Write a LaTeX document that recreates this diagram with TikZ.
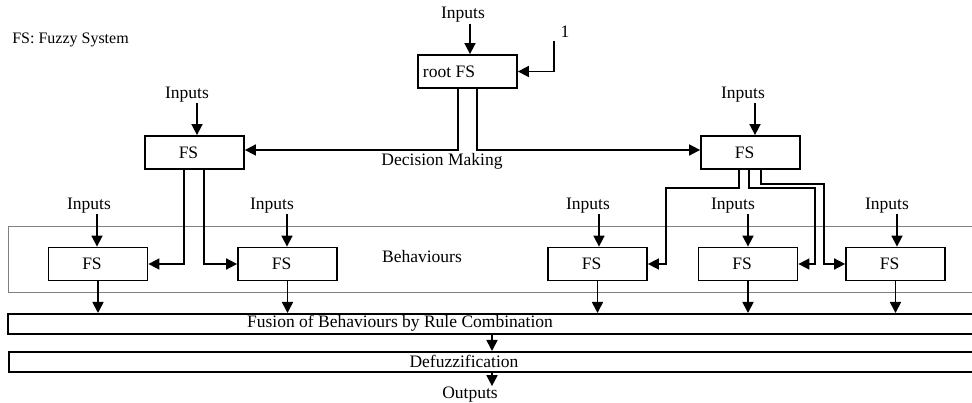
\documentclass[tikz,border=0pt]{standalone}
\usepackage{fontspec}
\setmainfont{Liberation Serif}
\usetikzlibrary{arrows.meta}
\begin{document}
\begin{tikzpicture}[x=1pt,y=-1pt,
  every node/.style={font=\fontsize{17.5}{20}\selectfont},
  fsbox/.style={draw,line width=1.8pt,minimum width=99pt,minimum height=33pt,inner sep=0pt,
                execute at begin node=\hspace*{-12pt}},
  lbl/.style={inner sep=1pt},
  arr/.style={line width=1.7pt,-{Triangle[length=11pt,width=11pt]}},
  band/.style={draw,line width=1.8pt,minimum height=20pt,minimum width=1000pt,inner sep=0pt,anchor=north west},
  frame/.style={draw=gray,line width=1pt}
]
\useasboundingbox (0,0) rectangle (972,403);
\clip (0,0) rectangle (972,403);

% legend
\node[lbl,font=\fontsize{16}{19}\selectfont] (legend) at (70.5,40) {FS: Fuzzy System};

% behaviours frame
\draw[frame] (8,227) rectangle (1000,293);
\node[lbl] (behl) at (422,257) {Behaviours};

% fuzzy systems
\node[fsbox,execute at begin node=\hspace*{-25pt}] (root) at (467.5,71.5) {root FS};
\node[fsbox] (L) at (194.5,152.5) {FS};
\node[fsbox] (R) at (750.5,152.5) {FS};
\node[fsbox] (B1) at (98,264) {FS};
\node[fsbox] (B2) at (287.5,264) {FS};
\node[fsbox] (B3) at (597.5,264) {FS};
\node[fsbox] (B4) at (748,264) {FS};
\node[fsbox] (B5) at (895.5,264) {FS};

% fusion and defuzzification
\node[band] (fus) at (7,313) {};
\node[lbl] (fust) at (400,323) {Fusion of Behaviours by Rule Combination};
\node[band] (dfz) at (8,351) {};
\node[lbl] (dfzt) at (464,361) {Defuzzification};
\node[lbl] (out) at (470,395) {Outputs};

% inputs labels
\node[lbl] (i0) at (463,15) {Inputs};
\node[lbl] (i1) at (187,94.5) {Inputs};
\node[lbl] (i2) at (743,94.5) {Inputs};
\node[lbl] (i3) at (89,205.5) {Inputs};
\node[lbl] (i4) at (272,205.5) {Inputs};
\node[lbl] (i5) at (588,205.5) {Inputs};
\node[lbl] (i6) at (733,205.5) {Inputs};
\node[lbl] (i7) at (887,205.5) {Inputs};

\coordinate (a0) at (470,0);
\coordinate (a1) at (197,0);
\coordinate (a2) at (755,0);
\coordinate (a3) at (97,0);
\coordinate (a4) at (287,0);
\coordinate (a5) at (599,0);
\coordinate (a6) at (748,0);
\coordinate (a7) at (897,0);
\draw[arr] (i0.south -| a0) -- (root.north -| a0);
\draw[arr] (i1.south -| a1) -- (L.north -| a1);
\draw[arr] (i2.south -| a2) -- (R.north -| a2);
\draw[arr] (i3.south -| a3) -- (B1.north -| a3);
\draw[arr] (i4.south -| a4) -- (B2.north -| a4);
\draw[arr] (i5.south -| a5) -- (B3.north -| a5);
\draw[arr] (i6.south -| a6) -- (B4.north -| a6);
\draw[arr] (i7.south -| a7) -- (B5.north -| a7);

% constant input 1
\node[lbl] (n1) at (565,32) {1};
\coordinate (c1) at (554,41);
\draw[arr] (c1) |- (root.east);

% decision making
\node[lbl] (dm) at (442,161.5) {Decision Making};
\coordinate (h) at (0,150);
\draw[arr] ([xshift=-9.5pt]root.south) |- (L.east |- h);
\draw[arr] ([xshift=9.5pt]root.south) |- (R.west |- h);

% left FS to behaviours
\draw[arr] ([xshift=-10.5pt]L.south) |- (B1.east);
\draw[arr] ([xshift=9.5pt]L.south) |- (B2.west);

% right FS to behaviours
\coordinate (k1) at (666,188);
\coordinate (k2) at (815,188);
\coordinate (k3) at (824,184);
\draw[arr] ([xshift=-11.5pt]R.south) |- (k1) |- (B3.east);
\draw[arr] ([xshift=-1.5pt]R.south) |- (k2) |- (B4.east);
\draw[arr] ([xshift=10.5pt]R.south) |- (k3) |- (B5.west);

% behaviours to fusion
\draw[arr] (B1.south) -- (fus.north -| B1.south);
\draw[arr] (B2.south) -- (fus.north -| B2.south);
\draw[arr] (B3.south) -- (fus.north -| B3.south);
\draw[arr] (B4.south) -- (fus.north -| B4.south);
\draw[arr] (B5.south) -- (fus.north -| B5.south);

% fusion -> defuzz -> outputs
\coordinate (fx) at (492,0);
\draw[arr] (fus.south -| fx) -- (dfz.north -| fx);
\draw[arr] (dfz.south -| fx) -- (out.north -| fx);
\end{tikzpicture}
\end{document}
